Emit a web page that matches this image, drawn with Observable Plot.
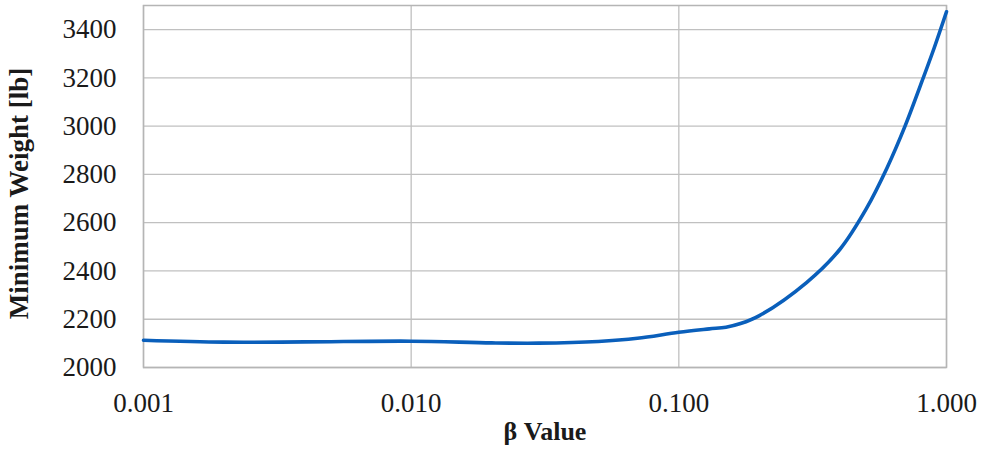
<!DOCTYPE html>
<html><head><meta charset="utf-8">
<script src="https://cdn.jsdelivr.net/npm/d3@7"></script>
<script src="https://cdn.jsdelivr.net/npm/@observablehq/plot@0.6"></script>
<style>body{margin:0;background:#fff}</style>
</head><body><div id="chart"></div>
<script>
const betaValues = [0.001, 0.002, 0.004, 0.01, 0.02, 0.03, 0.05, 0.07, 0.1, 0.13, 0.15, 0.17, 0.2, 0.3, 0.4, 0.5, 0.6, 0.7, 0.8, 0.9, 1.0];
const minWeights = [2113, 2105, 2106, 2109, 2102, 2101, 2108, 2121, 2146, 2160, 2167, 2182, 2215, 2352, 2490, 2655, 2828, 3000, 3170, 3325, 3474];
const xTicks = [0.001, 0.01, 0.1, 1];
const yTicks = [2000, 2200, 2400, 2600, 2800, 3000, 3200, 3400];
const xTitle = "β Value";
const yTitle = "Minimum Weight [lb]";

const data = betaValues.map((b, i) => ({beta: b, weight: minWeights[i]}));

const chart = Plot.plot({
  width: 987, height: 461,
  marginLeft: 143, marginRight: 41, marginTop: 5, marginBottom: 94,
  style: {fontFamily: "'Liberation Serif', 'Times New Roman', serif", background: "#fff", color: "#1a1a1a"},
  x: {type: "log", domain: [0.001, 1]},
  y: {domain: [2000, 3500]},
  marks: [
    Plot.gridX(xTicks, {stroke: "#c0c0c0", strokeOpacity: 1, strokeWidth: 1.3}),
    Plot.gridY(yTicks, {stroke: "#c0c0c0", strokeOpacity: 1, strokeWidth: 1.3}),
    Plot.frame({stroke: "#b5b5b5", strokeWidth: 1.5}),
    Plot.axisX(xTicks, {tickFormat: d3.format(".3f"), tickSize: 0, tickPadding: 25, fontSize: 27, label: null}),
    Plot.axisY(yTicks, {tickFormat: d => String(d), tickSize: 0, tickPadding: 27, fontSize: 27, label: null}),
    Plot.line(data, {x: "beta", y: "weight", stroke: "#0a5fbb", strokeWidth: 3.6, curve: "catmull-rom"}),
    Plot.text([xTitle], {frameAnchor: "bottom", dy: 72, fontWeight: "bold", fontSize: 26, fill: "#1a1a1a"}),
    Plot.text([yTitle], {frameAnchor: "left", textAnchor: "middle", dx: -124, dy: 7, rotate: -90, fontWeight: "bold", fontSize: 27, fill: "#1a1a1a"})
  ]
});
document.getElementById("chart").appendChild(chart);
</script>
</body></html>
